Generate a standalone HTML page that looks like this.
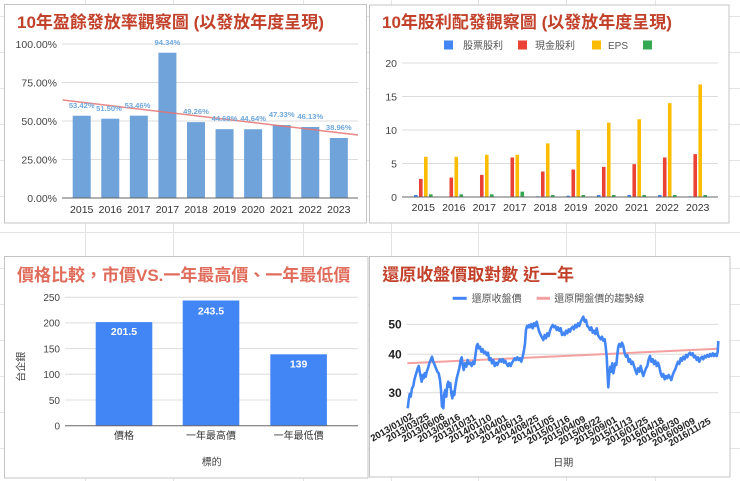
<!DOCTYPE html>
<html><head><meta charset="utf-8"><style>
html,body{margin:0;padding:0;background:#fff;}
svg{display:block;font-family:"Liberation Sans","Noto Sans CJK TC",sans-serif;}
</style></head><body>
<svg width="740" height="481" viewBox="0 0 740 481" xmlns="http://www.w3.org/2000/svg">
<!-- spreadsheet grid -->
<g stroke="#e3e3e3" stroke-width="1">
<line x1="85.5" y1="0" x2="85.5" y2="481"/><line x1="173.5" y1="0" x2="173.5" y2="481"/><line x1="303.5" y1="0" x2="303.5" y2="481"/>
<line x1="391.5" y1="0" x2="391.5" y2="481"/><line x1="478.5" y1="0" x2="478.5" y2="481"/><line x1="566.5" y1="0" x2="566.5" y2="481"/><line x1="655.5" y1="0" x2="655.5" y2="481"/>
<line x1="0" y1="16.5" x2="740" y2="16.5"/><line x1="0" y1="52.5" x2="740" y2="52.5"/><line x1="0" y1="88.5" x2="740" y2="88.5"/><line x1="0" y1="124.5" x2="740" y2="124.5"/><line x1="0" y1="160.5" x2="740" y2="160.5"/><line x1="0" y1="196.5" x2="740" y2="196.5"/><line x1="0" y1="232.5" x2="740" y2="232.5"/><line x1="0" y1="268.5" x2="740" y2="268.5"/><line x1="0" y1="304.5" x2="740" y2="304.5"/><line x1="0" y1="340.5" x2="740" y2="340.5"/><line x1="0" y1="376.5" x2="740" y2="376.5"/><line x1="0" y1="412.5" x2="740" y2="412.5"/><line x1="0" y1="448.5" x2="740" y2="448.5"/>
</g>

<!-- ================= Panel 1 ================= -->
<rect x="4.5" y="4.5" width="362" height="218.5" fill="#fff" stroke="#c4c4c4"/>
<text x="17" y="28" font-size="17" font-weight="bold" fill="#c2412b">10年盈餘發放率觀察圖 (以發放年度呈現)</text>
<g stroke="#dcdcdc" stroke-width="1">
<line x1="62" y1="44" x2="358" y2="44"/><line x1="62" y1="82.5" x2="358" y2="82.5"/><line x1="62" y1="121" x2="358" y2="121"/><line x1="62" y1="159.5" x2="358" y2="159.5"/>
</g>
<g font-size="10.5" fill="#444" text-anchor="end">
<text x="57" y="48">100.00%</text><text x="57" y="86.5">75.00%</text><text x="57" y="125">50.00%</text><text x="57" y="163.5">25.00%</text><text x="57" y="202">0.00%</text>
</g>
<g fill="#6fa3da">
<rect x="72.7" y="115.73" width="18" height="82.27"/>
<rect x="101.27" y="118.69" width="18" height="79.31"/>
<rect x="129.84" y="115.67" width="18" height="82.33"/>
<rect x="158.41" y="52.72" width="18" height="145.28"/>
<rect x="186.98" y="122.14" width="18" height="75.86"/>
<rect x="215.55" y="129.18" width="18" height="68.82"/>
<rect x="244.12" y="129.25" width="18" height="68.75"/>
<rect x="272.69" y="125.11" width="18" height="72.89"/>
<rect x="301.26" y="126.96" width="18" height="71.04"/>
<rect x="329.83" y="138" width="18" height="60"/>
</g>
<line x1="62" y1="198" x2="358" y2="198" stroke="#666" stroke-width="1"/>
<line x1="62.7" y1="100" x2="358" y2="135" stroke="#e57373" stroke-width="1.5" opacity="0.85"/>
<g font-size="7.6" font-weight="bold" fill="#6fa8dc" text-anchor="middle">
<text x="81.7" y="108">53.42%</text><text x="109" y="111">51.50%</text><text x="137.5" y="108">53.46%</text><text x="167.4" y="45">94.34%</text><text x="196" y="114">49.26%</text><text x="224.5" y="121">44.69%</text><text x="253.1" y="121">44.64%</text><text x="281.7" y="117">47.33%</text><text x="310.3" y="119">46.13%</text><text x="338.8" y="130">38.96%</text>
</g>
<g font-size="10.5" fill="#333" text-anchor="middle">
<text x="81.7" y="213">2015</text><text x="110.3" y="213">2016</text><text x="138.8" y="213">2017</text><text x="167.4" y="213">2017</text><text x="196" y="213">2018</text><text x="224.5" y="213">2019</text><text x="253.1" y="213">2020</text><text x="281.7" y="213">2021</text><text x="310.3" y="213">2022</text><text x="338.8" y="213">2023</text>
</g>

<!-- ================= Panel 2 ================= -->
<rect x="369.5" y="5" width="359.5" height="218" fill="#fff" stroke="#c4c4c4"/>
<text x="382" y="28" font-size="17" font-weight="bold" fill="#c2412b">10年股利配發觀察圖 (以發放年度呈現)</text>
<g font-size="10" fill="#555">
<rect x="444" y="40.5" width="9" height="9" fill="#4285f4"/><text x="463" y="49">股票股利</text>
<rect x="518" y="40.5" width="9" height="9" fill="#ea4335"/><text x="535" y="49">現金股利</text>
<rect x="592" y="40.5" width="9" height="9" fill="#fbbc04"/><text x="608" y="49">EPS</text>
<rect x="643" y="40.5" width="9" height="9" fill="#34a853"/>
</g>
<g stroke="#dcdcdc" stroke-width="1">
<line x1="402" y1="63" x2="718" y2="63"/><line x1="402" y1="96.5" x2="718" y2="96.5"/><line x1="402" y1="130" x2="718" y2="130"/><line x1="402" y1="163.5" x2="718" y2="163.5"/>
</g>
<g font-size="10.5" fill="#444" text-anchor="end">
<text x="397" y="67">20</text><text x="397" y="100.5">15</text><text x="397" y="134">10</text><text x="397" y="167.5">5</text><text x="397" y="201">0</text>
</g>
<g fill="#4285f4">
<rect x="414" y="195" width="3.6" height="2"/><rect x="535.96" y="196.3" width="3.6" height="0.7"/><rect x="566.45" y="195.7" width="3.6" height="1.3"/><rect x="596.94" y="195" width="3.6" height="2"/><rect x="627.43" y="195" width="3.6" height="2"/><rect x="657.92" y="195" width="3.6" height="2"/><rect x="688.41" y="196.3" width="3.6" height="0.7"/>
</g>
<g fill="#ea4335">
<rect x="419" y="178.91" width="3.6" height="18.09"/>
<rect x="449.49" y="177.57" width="3.6" height="19.43"/>
<rect x="479.98" y="174.89" width="3.6" height="22.11"/>
<rect x="510.47" y="157.47" width="3.6" height="39.53"/>
<rect x="540.96" y="171.54" width="3.6" height="25.46"/>
<rect x="571.45" y="169.53" width="3.6" height="27.47"/>
<rect x="601.94" y="166.85" width="3.6" height="30.15"/>
<rect x="632.43" y="164.17" width="3.6" height="32.83"/>
<rect x="662.92" y="157.47" width="3.6" height="39.53"/>
<rect x="693.41" y="154.12" width="3.6" height="42.88"/>
</g>
<g fill="#fbbc04">
<rect x="424" y="156.8" width="3.6" height="40.2"/>
<rect x="454.49" y="156.8" width="3.6" height="40.2"/>
<rect x="484.98" y="154.79" width="3.6" height="42.21"/>
<rect x="515.47" y="154.79" width="3.6" height="42.21"/>
<rect x="545.96" y="143.4" width="3.6" height="53.6"/>
<rect x="576.45" y="130" width="3.6" height="67"/>
<rect x="606.94" y="122.63" width="3.6" height="74.37"/>
<rect x="637.43" y="119.28" width="3.6" height="77.72"/>
<rect x="667.92" y="103.2" width="3.6" height="93.8"/>
<rect x="698.41" y="84.44" width="3.6" height="112.56"/>
</g>
<g fill="#34a853">
<rect x="429" y="194.32" width="3.6" height="2.68"/>
<rect x="459.49" y="194.32" width="3.6" height="2.68"/>
<rect x="489.98" y="194.32" width="3.6" height="2.68"/>
<rect x="520.47" y="191.64" width="3.6" height="5.36"/>
<rect x="550.96" y="194.99" width="3.6" height="2.01"/>
<rect x="581.45" y="194.99" width="3.6" height="2.01"/>
<rect x="611.94" y="194.99" width="3.6" height="2.01"/>
<rect x="642.43" y="194.99" width="3.6" height="2.01"/>
<rect x="672.92" y="194.99" width="3.6" height="2.01"/>
<rect x="703.41" y="194.99" width="3.6" height="2.01"/>
</g>
<line x1="402" y1="197" x2="718" y2="197" stroke="#666" stroke-width="1"/>
<g font-size="10.5" fill="#333" text-anchor="middle">
<text x="423.3" y="211">2015</text><text x="453.8" y="211">2016</text><text x="484.3" y="211">2017</text><text x="514.8" y="211">2017</text><text x="545.3" y="211">2018</text><text x="575.8" y="211">2019</text><text x="606.2" y="211">2020</text><text x="636.7" y="211">2021</text><text x="667.2" y="211">2022</text><text x="697.7" y="211">2023</text>
</g>

<!-- ================= Panel 3 ================= -->
<rect x="4.5" y="256.5" width="363.5" height="221.5" fill="#fff" stroke="#c4c4c4"/>
<text x="17" y="281" font-size="17" font-weight="bold" fill="#e06c5c">價格比較，市價VS.一年最高價、一年最低價</text>
<g stroke="#dcdcdc" stroke-width="1">
<line x1="65" y1="297.2" x2="358" y2="297.2"/><line x1="65" y1="322.9" x2="358" y2="322.9"/><line x1="65" y1="348.6" x2="358" y2="348.6"/><line x1="65" y1="374.3" x2="358" y2="374.3"/><line x1="65" y1="400" x2="358" y2="400"/>
</g>
<g font-size="10" fill="#444" text-anchor="end">
<text x="60" y="301">250</text><text x="60" y="326.7">200</text><text x="60" y="352.4">150</text><text x="60" y="378.1">100</text><text x="60" y="403.8">50</text><text x="60" y="429.5">0</text>
</g>
<text transform="translate(24.5,366.7) rotate(-90)" font-size="10" fill="#444" text-anchor="middle">台企銀</text>
<g fill="#4285f4">
<rect x="95.7" y="322.1" width="56.6" height="103.6"/>
<rect x="182.7" y="300.5" width="56.6" height="125.2"/>
<rect x="270.3" y="354.3" width="56.6" height="71.4"/>
</g>
<line x1="65" y1="425.7" x2="358" y2="425.7" stroke="#666" stroke-width="1"/>
<g font-size="10.5" font-weight="bold" fill="#fff" text-anchor="middle">
<text x="124" y="335">201.5</text><text x="211" y="314.5">243.5</text><text x="298.6" y="367.5">139</text>
</g>
<g font-size="10" fill="#333" text-anchor="middle">
<text x="124" y="439">價格</text><text x="211" y="439">一年最高價</text><text x="298.6" y="439">一年最低價</text>
<text x="211.7" y="465.5" fill="#444">標的</text>
</g>

<!-- ================= Panel 4 ================= -->
<rect x="369.5" y="256.5" width="360.5" height="220.5" fill="#fff" stroke="#c4c4c4"/>
<text x="382.3" y="280.5" font-size="17" font-weight="bold" fill="#c2412b">還原收盤價取對數 近一年</text>
<g font-size="10" fill="#555">
<line x1="452.7" y1="298.3" x2="466.7" y2="298.3" stroke="#4285f4" stroke-width="3"/>
<text x="471.7" y="302">還原收盤價</text>
<line x1="536.7" y1="298.3" x2="550" y2="298.3" stroke="#f4a0a0" stroke-width="3"/>
<text x="554.3" y="302">還原開盤價的趨勢線</text>
</g>
<g stroke="#dcdcdc" stroke-width="1">
<line x1="406.7" y1="324.4" x2="718.3" y2="324.4"/><line x1="406.7" y1="354.3" x2="718.3" y2="354.3"/><line x1="406.7" y1="392.8" x2="718.3" y2="392.8"/>
</g>
<g font-size="12" font-weight="bold" fill="#222" text-anchor="end">
<text x="401.7" y="328.6">50</text><text x="401.7" y="358.5">40</text><text x="401.7" y="397">30</text>
</g>
<line x1="407.3" y1="363.3" x2="718.3" y2="348.7" stroke="#f4a0a0" stroke-width="2"/>
<polyline fill="none" stroke="#4285f4" stroke-width="2.6" stroke-linejoin="round" points="407.7,408.3 408.7,400 409.7,394 410.7,396.7 412,388.3 413.3,386 414.3,380 415.7,375 416.7,371.7 417.7,368.3 418.7,366 419.7,371.7 420.7,376.7 421.7,381.7 422.7,375 423.7,378.3 424.7,373.3 425.7,376.7 426.7,371.7 428,368.3 429.3,363.3 430.7,360 432,356.7 433.3,361.7 434.7,365 436,368.3 437.3,371.7 438.7,373.3 440,380 441,390 442,406.7 442.7,396.7 443.3,408.3 444.3,393.3 445.3,390 446.3,396.7 447.3,385 448.3,381.7 449.3,386.7 450.3,383.3 451.3,393.3 452.3,398.3 453.3,391.7 454.3,395 455.3,386.7 456.7,378.3 458,373.3 459.3,368.3 460.7,360 461.7,357.3 462.7,365 463.7,370 465,363.3 466.3,366.7 467.7,360 469,364 470.3,362.7 471.7,366 473,361.7 474.3,364 475.7,353.3 476.7,346 477.7,344 478.7,348.3 480,346.7 481.3,351.7 482.7,349.3 484,353.3 485.3,351.7 486.7,355 488,352.7 489.3,360 490.7,358.3 492,363.3 493.3,360 494.7,366 496,362.7 497.3,365 498.7,361.7 500,359.3 501.3,361.7 502.7,359.3 504,362.7 505.3,360.7 506.7,364 508,366 509.3,363.3 510.7,366 512,362.7 513.3,360.7 514.7,358.3 516,360 517.3,357.3 518.7,360 520,358.3 521.3,361.7 522.7,356.7 524,350 525,343.3 526,330 527,326 528,327.3 529,325 530,327.3 531.3,324 532.7,328.3 534,323.3 535.3,326 536.7,321.7 538,327.3 539.3,331.7 540.7,335 542,337.3 543.3,340 544.7,335 546,338.3 547.3,333.3 548.7,336 550,330.7 551.3,327.3 552.7,325 554,327.3 555.3,326 556.7,330 558,327.3 559.3,330.7 560.7,328.3 562,335 563.3,332.7 564.7,335 566,330.7 567.3,333.3 568.7,329.3 570,331.7 571.3,328.3 572.7,326.7 574,329.3 575.3,325 576.7,327.3 578,323.3 579.3,326 580.7,321.7 582,319.3 583.3,316.7 584.7,321.7 586,320 587.3,326 588.7,327.3 590,330 591.3,327.3 592.7,332.7 594,330.7 595.3,334 596.7,328.3 598,335 599.3,337.3 600.7,339.3 602,336.7 603.3,340.7 604.7,339.3 605.7,346.7 606.7,356.7 607.7,376.7 608.3,387.3 609.3,373.3 610.3,366.7 611.3,371.7 612.3,363.3 613.3,373.3 614.3,368.3 615.3,363.3 616.3,365 617.3,355 618.3,346.7 619.3,344 620.7,346.7 622,342.7 623.3,346 624.7,353.3 626,356.7 627.3,355 628.7,361.7 630,359.3 631.3,364 632.7,361.7 634,366 635.3,370 636.7,374 638,368.3 639.3,371.7 640.7,366 642,371.7 643.3,376 644.7,371.7 646,368.3 647.3,366 648.7,359.3 650,356 651.3,361.7 652.7,359.3 654,364 655.3,360.7 656.7,366 658,362.7 659.3,366.7 660.7,373.3 662,376.7 663.3,374 664.7,379.3 666,376 667.3,378.3 668.7,375 670,377.3 671.3,380 672.7,375 674,371.7 675.3,369.3 676.7,365 678,361.7 679.3,364 680.7,358.3 682,360.7 683.3,356.7 684.7,359.3 686,355 687.3,357.3 688.7,354 690,352.7 691.3,355 692.7,353.3 694,357.3 695.3,356 696.7,360 698,357.3 699.3,361.7 700.7,358.3 702,356.7 703.3,359.3 704.7,356 706,357.3 707.3,355 708.7,356.7 710,354 711.3,356 712.7,353.3 714,356 715.3,354 716.7,356 717.7,351.7 718.3,341"/>
<g font-size="9.5" font-weight="bold" fill="#222" text-anchor="end">
<text transform="translate(414,418) rotate(-30)">2013/01/02</text>
<text transform="translate(429.7,418.3) rotate(-30)">2013/03/25</text>
<text transform="translate(445.3,418.5) rotate(-30)">2013/06/06</text>
<text transform="translate(461,418.8) rotate(-30)">2013/08/16</text>
<text transform="translate(476.6,419.1) rotate(-30)">2013/10/31</text>
<text transform="translate(492.3,419.3) rotate(-30)">2014/01/10</text>
<text transform="translate(508,419.6) rotate(-30)">2014/04/01</text>
<text transform="translate(523.6,419.8) rotate(-30)">2014/06/13</text>
<text transform="translate(539.3,420.1) rotate(-30)">2014/08/25</text>
<text transform="translate(554.9,420.4) rotate(-30)">2014/11/05</text>
<text transform="translate(570.6,420.6) rotate(-30)">2015/01/16</text>
<text transform="translate(586.2,420.9) rotate(-30)">2015/04/09</text>
<text transform="translate(601.9,421.2) rotate(-30)">2015/06/22</text>
<text transform="translate(617.5,421.4) rotate(-30)">2015/09/01</text>
<text transform="translate(633.2,421.7) rotate(-30)">2015/11/13</text>
<text transform="translate(648.8,421.9) rotate(-30)">2016/01/25</text>
<text transform="translate(664.5,422.2) rotate(-30)">2016/04/18</text>
<text transform="translate(680.2,422.5) rotate(-30)">2016/06/30</text>
<text transform="translate(695.8,422.7) rotate(-30)">2016/09/09</text>
<text transform="translate(711.5,423) rotate(-30)">2016/11/25</text>
</g>
<text x="563.3" y="466" font-size="10" fill="#444" text-anchor="middle">日期</text>
</svg>
</body></html>
